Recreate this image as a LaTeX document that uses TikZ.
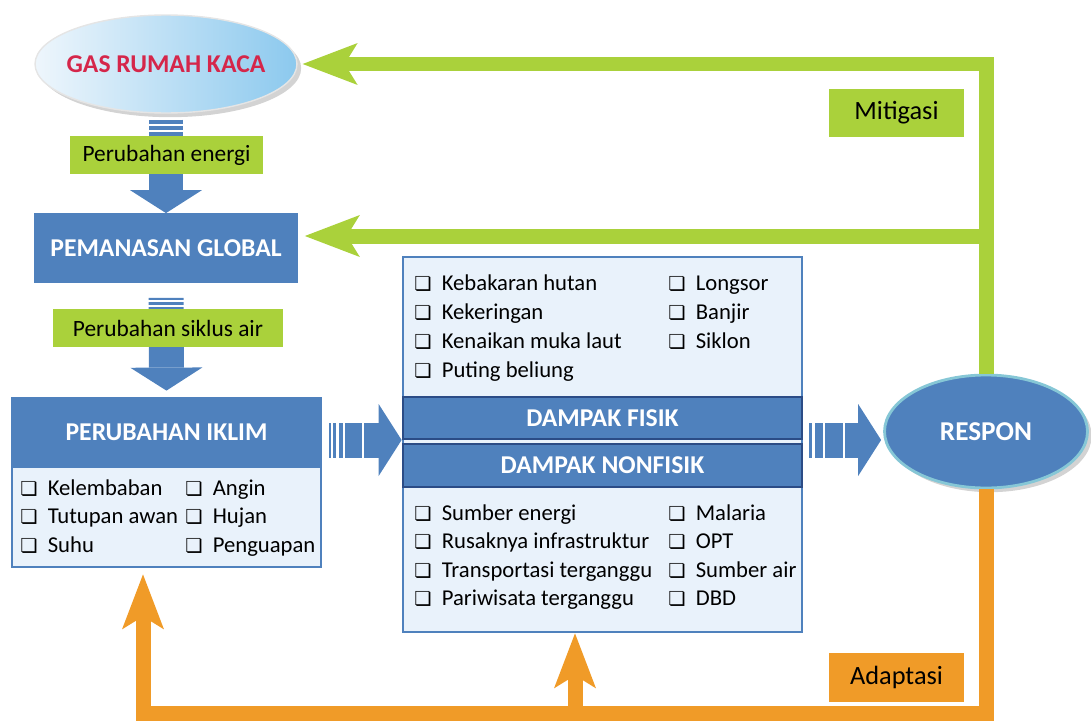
\documentclass[tikz,border=0pt]{standalone}
\usepackage{fontspec}
\setmainfont{Carlito}
\newfontfamily\symfont[Scale=0.85]{DejaVu Sans}
\usetikzlibrary{arrows.meta,shapes.geometric,shadows}

\definecolor{ipccblue}{HTML}{4F81BD}
\definecolor{navyband}{HTML}{2B4C86}
\definecolor{paleblue}{HTML}{E9F2FB}
\definecolor{mitgreen}{HTML}{AAD13B}
\definecolor{adorange}{HTML}{F09B28}
\definecolor{gasred}{HTML}{D5264A}
\definecolor{gasleft}{HTML}{EEF6FC}
\definecolor{gasright}{HTML}{8CC9EE}
\definecolor{responrim}{HTML}{86C7D6}

\newcommand{\chk}{{\symfont\char"274F}\hspace{0.45em}}

\tikzset{
  hdbox/.style={fill=ipccblue, draw=ipccblue, line width=1.6pt, text=white, inner sep=0pt,
    font=\fontsize{14.6}{16}\selectfont\bfseries},
  bandbox/.style={hdbox, draw=navyband, minimum width=7.98cm},
  listbox/.style={fill=paleblue, draw=ipccblue, line width=1.6pt, inner sep=0pt},
  itemtxt/.style={anchor=west, inner sep=0pt, text height=8.3pt, text depth=0pt,
    font=\fontsize{12.9}{15}\selectfont},
  tagbox/.style={fill=mitgreen, inner sep=0pt, minimum height=0.76cm,
    font=\fontsize{13.3}{15}\selectfont},
  sidetag/.style={tagbox, minimum width=2.7cm, minimum height=0.98cm,
    font=\fontsize{15}{17}\selectfont},
  blueshaft/.style={ipccblue, line width=0.7cm,
    -{Triangle[length=0.46cm 0,width=1.44cm 0,line width=0pt 0]}},
  mitline/.style={mitgreen, line width=0.3cm,
    -{Stealth[length=1.1cm 0,width=0.84cm 0,inset=0.26cm 0,line width=0pt 0]}},
  adline/.style={mitline, adorange},
  stripe/.style={white, line width=1.2pt}
}

\begin{document}
\begin{tikzpicture}[x=0.02cm,y=-0.02cm]
  \useasboundingbox (0,0) rectangle (1091,720);

  % left column
  \node[ellipse, minimum width=5.24cm, minimum height=1.96cm, inner sep=0pt,
        left color=gasleft, right color=gasright, draw=white!80!gray, line width=0.8pt,
        drop shadow={opacity=0.35}] (gas) at (166,64) {};
  \node[text=gasred, font=\fontsize{14.6}{16}\selectfont\bfseries] (gaslabel) at (gas.center) {GAS RUMAH KACA};
  \node[hdbox, minimum width=5.22cm, minimum height=1.34cm] (pem) at (166,248) {PEMANASAN GLOBAL};
  \node[listbox, minimum width=6.18cm, minimum height=2cm] (iklimlist) at (166.5,517) {};
  \node[hdbox, minimum width=6.18cm, minimum height=1.38cm] (iklim) at (166.5,432.5) {PERUBAHAN IKLIM};
  \foreach \txt [count=\i] in {Kelembaban,Tutupan awan,Suhu}
    \node[itemtxt] (ika\i) at (20,{488+28.5*(\i-1)}) {\chk\txt};
  \foreach \txt [count=\i] in {Angin,Hujan,Penguapan}
    \node[itemtxt] (ikb\i) at (185,{488+28.5*(\i-1)}) {\chk\txt};

  % dampak
  \node[listbox, minimum width=7.98cm, minimum height=7.5cm] (dampak) at (602.5,444.5) {};
  \node[bandbox, minimum height=0.84cm] (fisik) at (602.5,418) {DAMPAK FISIK};
  \node[bandbox, minimum height=0.86cm] (nonfisik) at (602.5,465.5) {DAMPAK NONFISIK};
  \coordinate (split) at (602.5,440);
  \foreach \txt [count=\i] in {Kebakaran hutan,Kekeringan,Kenaikan muka laut,Puting beliung}
    \node[itemtxt] (fsa\i) at (414,{283+29*(\i-1)}) {\chk\txt};
  \foreach \txt [count=\i] in {Longsor,Banjir,Siklon}
    \node[itemtxt] (fsb\i) at (668,{283+29*(\i-1)}) {\chk\txt};
  \foreach \txt [count=\i] in {Sumber energi,Rusaknya infrastruktur,Transportasi terganggu,Pariwisata terganggu}
    \node[itemtxt] (nfa\i) at (414,{513+28.5*(\i-1)}) {\chk\txt};
  \foreach \txt [count=\i] in {Malaria,OPT,Sumber air,DBD}
    \node[itemtxt] (nfb\i) at (668,{513+28.5*(\i-1)}) {\chk\txt};

  % respon
  \node[ellipse, minimum width=4.06cm, minimum height=2.26cm, inner sep=0pt,
        fill=ipccblue, draw=responrim, line width=1.6pt, drop shadow={opacity=0.35},
        text=white, font=\fontsize{15.5}{17}\selectfont\bfseries]
        (respon) at (986,431.5) {RESPON};

  % blue arrows
  \draw[blueshaft, shorten <=0.12cm] (gas.south) -- (pem.north);
  \draw[blueshaft, shorten <=0.3cm, shorten >=0.12cm] (pem.south) -- (iklim.north);
  \draw[blueshaft, shorten <=0.14cm] (iklim.east |- split) -- (dampak.west |- split);
  \draw[blueshaft, shorten <=0.12cm, shorten >=0.04cm] (dampak.east |- split) -- (respon.west |- split);
  \foreach \y in {125,131,301,306}
    \draw[stripe] (148,\y) -- (185,\y);
  \foreach \x in {332,337.5,344,363,813.5,824,844}
    \draw[stripe] (\x,422) -- (\x,458);

  % labels on arrows
  \node[tagbox, minimum width=3.86cm] (energi) at (166.5,155) {Perubahan energi};
  \node[tagbox, minimum width=4.6cm] (siklus) at (168,328) {Perubahan siklus air};

  % mitigasi
  \coordinate (gastip) at ([xshift=0.1cm]gas.east);
  \coordinate (pemtip) at ([xshift=0.14cm,yshift=0.24cm]pem.east);
  \draw[mitline] (respon.north) |- (gastip);
  \draw[mitline] (respon.north |- pemtip) -- (pemtip);
  \node[sidetag] (mitigasi) at (896.5,113) {Mitigasi};

  % adaptasi
  \coordinate (adleft) at (143,713);
  \coordinate (admid) at (575,713);
  \draw[adline, shorten >=0.12cm] (respon.south) |- (adleft) -- (adleft |- iklimlist.south);
  \draw[adline] (admid) -- (admid |- dampak.south);
  \node[sidetag, fill=adorange] (adaptasi) at (896.5,677) {Adaptasi};
\end{tikzpicture}
\end{document}
